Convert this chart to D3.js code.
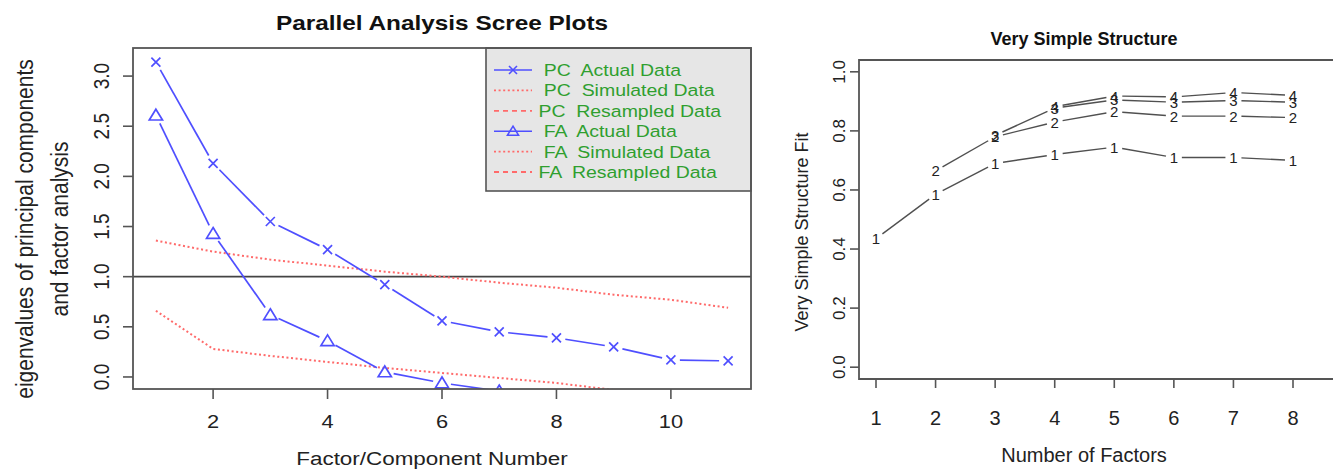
<!DOCTYPE html>
<html>
<head>
<meta charset="utf-8">
<script src="https://cdn.jsdelivr.net/npm/d3@7"></script>
<style>
  body { margin: 0; background: #fff; }
  text { font-family: "Liberation Sans", Arial, sans-serif; }
</style>
</head>
<body>
<div id="chart"></div>
<script>
// Parallel analysis (left panel)
const factorNumbers = [1, 2, 3, 4, 5, 6, 7, 8, 9, 10, 11];
const pcActual    = [3.14, 2.13, 1.55, 1.27, 0.92, 0.56, 0.45, 0.39, 0.30, 0.17, 0.16];
const pcSimulated = [1.36, 1.25, 1.17, 1.11, 1.05, 1.00, 0.94, 0.89, 0.82, 0.77, 0.69];
const faActual    = [2.61, 1.43, 0.62, 0.36, 0.05, -0.06, -0.14];
const faSimulated = [0.66, 0.28, 0.21, 0.15, 0.09, 0.04, -0.01, -0.06, -0.13];
const screeXTicks = [2, 4, 6, 8, 10];
const screeYTicks = [0, 0.5, 1, 1.5, 2, 2.5, 3];
const legendLabels = ["  PC  Actual Data", "  PC  Simulated Data", " PC  Resampled Data",
                      "  FA  Actual Data", "  FA  Simulated Data", " FA  Resampled Data"];

// Very simple structure (right panel), one array per complexity
const vssFactors = [1, 2, 3, 4, 5, 6, 7, 8];
const vss1 = [0.435, 0.585, 0.69, 0.72, 0.745, 0.71, 0.71, 0.70];
const vss2 = [null, 0.665, 0.78, 0.83, 0.865, 0.85, 0.85, 0.845];
const vss3 = [null, null, 0.785, 0.877, 0.905, 0.897, 0.903, 0.897];
const vss4 = [null, null, null, 0.882, 0.918, 0.915, 0.93, 0.92];
const vssYTicks = [0, 0.2, 0.4, 0.6, 0.8, 1.0];

const W = 1333, H = 470;
const BLUE = "#4f4fff", RED = "#ff6a6a", GREEN = "#2f9f2f", FRAME = "#555";

const svg = d3.select("#chart").append("svg")
    .attr("width", W).attr("height", H);

// text helper; sx stretches glyphs horizontally (the left image is wider than tall)
function label(g, x, y, str, o) {
  o = Object.assign({size: 18, sx: 1, rot: 0, anchor: "middle", weight: "normal", fill: "#222"}, o);
  return g.append("text")
      .attr("transform", `translate(${x},${y}) scale(${o.sx},1) rotate(${o.rot})`)
      .attr("text-anchor", o.anchor)
      .attr("font-size", o.size)
      .attr("font-weight", o.weight)
      .attr("fill", o.fill)
      .style("white-space", "pre")
      .text(str);
}

// segments between consecutive points, cut back near each point (R type = "b")
function gappedSegments(pts, gap) {
  const segs = [];
  for (let i = 1; i < pts.length; i++) {
    const a = pts[i - 1], b = pts[i];
    if (!a || !b) continue;
    const dx = b[0] - a[0], dy = b[1] - a[1], len = Math.hypot(dx, dy);
    if (len <= 2 * gap) continue;
    const ux = dx / len, uy = dy / len;
    segs.push([a[0] + ux * gap, a[1] + uy * gap, b[0] - ux * gap, b[1] - uy * gap]);
  }
  return segs;
}

// ****************** Left panel ***************************
const L = {left: 133, right: 751, top: 48, bottom: 389};
const sx = 1.18;
const x = d3.scaleLinear().domain([0.6, 11.4]).range([L.left, L.right]);
const y = d3.scaleLinear().domain([-0.12, 3.28]).range([L.bottom, L.top]);

const left = svg.append("g");
left.append("clipPath").attr("id", "clipL").append("rect")
    .attr("x", L.left).attr("y", L.top)
    .attr("width", L.right - L.left).attr("height", L.bottom - L.top);

const plotL = left.append("g").attr("clip-path", "url(#clipL)");

// reference line at eigenvalue 1
plotL.append("line")
    .attr("x1", L.left).attr("x2", L.right)
    .attr("y1", y(1)).attr("y2", y(1))
    .attr("stroke", "#444").attr("stroke-width", 1.6);

const simLine = d3.line().x((d, i) => x(factorNumbers[i])).y(d => y(d));
[pcSimulated, faSimulated].forEach(s => {
  plotL.append("path")
      .attr("d", simLine(s))
      .attr("fill", "none")
      .attr("stroke", RED)
      .attr("stroke-width", 2)
      .attr("stroke-dasharray", "2,2.6");
});

function crossPath(r) {
  return `M${-r},${-r}L${r},${r}M${-r},${r}L${r},${-r}`;
}
function trianglePath(r) {
  return `M0,${-r}L${r * 1.1},${r * 0.8}L${-r * 1.1},${r * 0.8}Z`;
}

[[pcActual, crossPath(4.5)], [faActual, trianglePath(6)]].forEach(([s, marker]) => {
  const pts = s.map((d, i) => [x(factorNumbers[i]), y(d)]);
  plotL.selectAll(null)
      .data(gappedSegments(pts, 9))
      .enter().append("line")
      .attr("x1", d => d[0]).attr("y1", d => d[1])
      .attr("x2", d => d[2]).attr("y2", d => d[3])
      .attr("stroke", BLUE).attr("stroke-width", 1.7);
  plotL.selectAll(null)
      .data(pts)
      .enter().append("path")
      .attr("transform", d => `translate(${d[0]},${d[1]})`)
      .attr("d", marker)
      .attr("fill", "none")
      .attr("stroke", BLUE)
      .attr("stroke-width", 1.7);
});

// legend
const lg = {x0: 486, x1: L.right, y0: L.top, y1: 191, row0: 70, step: 20.4};
left.append("rect")
    .attr("x", lg.x0).attr("y", lg.y0)
    .attr("width", lg.x1 - lg.x0).attr("height", lg.y1 - lg.y0)
    .attr("fill", "#e6e6e6").attr("stroke", FRAME).attr("stroke-width", 1.6);
const legendStyle = [
  {stroke: BLUE, dash: null, marker: crossPath(4)},
  {stroke: RED, dash: "2,2.6", marker: null},
  {stroke: RED, dash: "5,4", marker: null},
  {stroke: BLUE, dash: null, marker: trianglePath(5)},
  {stroke: RED, dash: "2,2.6", marker: null},
  {stroke: RED, dash: "5,4", marker: null}
];
legendLabels.forEach((t, i) => {
  const yy = lg.row0 + i * lg.step;
  const st = legendStyle[i];
  left.append("line")
      .attr("x1", 494).attr("x2", 532).attr("y1", yy).attr("y2", yy)
      .attr("stroke", st.stroke).attr("stroke-width", st.dash ? 1.8 : 1.6)
      .attr("stroke-dasharray", st.dash);
  if (st.marker) {
    left.append("path")
        .attr("transform", `translate(513,${yy})`)
        .attr("d", st.marker)
        .attr("fill", "none").attr("stroke", st.stroke).attr("stroke-width", 1.6);
  }
  label(left, 533, yy + 6, t, {size: 16.5, sx: sx, anchor: "start", fill: GREEN});
});

// frame
left.append("rect")
    .attr("x", L.left).attr("y", L.top)
    .attr("width", L.right - L.left).attr("height", L.bottom - L.top)
    .attr("fill", "none").attr("stroke", FRAME).attr("stroke-width", 1.8);

// axes
screeXTicks.forEach(t => {
  left.append("line")
      .attr("x1", x(t)).attr("x2", x(t)).attr("y1", L.bottom).attr("y2", L.bottom + 10)
      .attr("stroke", FRAME).attr("stroke-width", 1.6);
  label(left, x(t), 428, d3.format("d")(t), {size: 18.5, sx: sx});
});
screeYTicks.forEach(t => {
  left.append("line")
      .attr("x1", L.left - 10).attr("x2", L.left).attr("y1", y(t)).attr("y2", y(t))
      .attr("stroke", FRAME).attr("stroke-width", 1.6);
  label(left, 109, y(t), d3.format(".1f")(t), {size: 19, sx: sx, rot: -90});
});

label(left, 442, 30, "Parallel Analysis Scree Plots", {size: 21, sx: 1.16, weight: "bold", fill: "#111"});
label(left, 432, 465, "Factor/Component Number", {size: 19, sx: sx});
label(left, 33, 229, "eigenvalues of principal components", {size: 21, sx: 1.1, rot: -90});
label(left, 68, 229, "and factor analysis", {size: 21, sx: 1.1, rot: -90});

// ****************** Right panel ***************************
const R = {left: 859, right: 1345, top: 60, bottom: 379};
const x2 = d3.scaleLinear().domain([1, 8]).range([876, 1293]);
const y2 = d3.scaleLinear().domain([-0.04, 1.04]).range([R.bottom, R.top]);
const right = svg.append("g");

[vss1, vss2, vss3, vss4].forEach((s, k) => {
  const pts = s.map((d, i) => d == null ? null : [x2(vssFactors[i]), y2(d)]);
  right.selectAll(null)
      .data(gappedSegments(pts, 8))
      .enter().append("line")
      .attr("x1", d => d[0]).attr("y1", d => d[1])
      .attr("x2", d => d[2]).attr("y2", d => d[3])
      .attr("stroke", "#505050").attr("stroke-width", 1.4);
  right.selectAll(null)
      .data(pts.filter(p => p))
      .enter().append("text")
      .attr("x", d => d[0]).attr("y", d => d[1] + 5.5)
      .attr("text-anchor", "middle")
      .attr("font-size", 15)
      .attr("fill", "#222")
      .text(k + 1);
});

right.append("path")
    .attr("d", `M${R.right},${R.top}H${R.left}V${R.bottom}H${R.right}`)
    .attr("fill", "none").attr("stroke", FRAME).attr("stroke-width", 1.8);

vssFactors.forEach(t => {
  right.append("line")
      .attr("x1", x2(t)).attr("x2", x2(t)).attr("y1", R.bottom).attr("y2", R.bottom + 9)
      .attr("stroke", FRAME).attr("stroke-width", 1.6);
  label(right, x2(t), 425, d3.format("d")(t), {size: 20});
});
vssYTicks.forEach(t => {
  right.append("line")
      .attr("x1", R.left - 9).attr("x2", R.left).attr("y1", y2(t)).attr("y2", y2(t))
      .attr("stroke", FRAME).attr("stroke-width", 1.6);
  label(right, 845, y2(t), d3.format(".1f")(t), {size: 17, rot: -90});
});

label(right, 1084, 45, "Very Simple Structure", {size: 18, weight: "bold", fill: "#111"});
label(right, 1084, 462, "Number of Factors", {size: 20});
label(right, 808, 232, "Very Simple Structure Fit", {size: 18, rot: -90});
</script>
</body>
</html>
